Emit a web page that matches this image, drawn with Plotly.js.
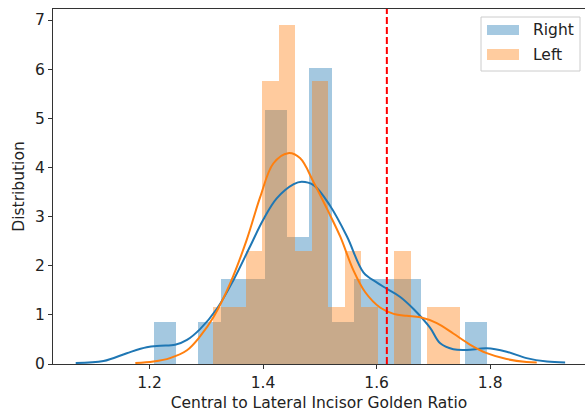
<!DOCTYPE html>
<html>
<head>
<meta charset="utf-8">
<script src="https://cdn.plot.ly/plotly-3.0.1.min.js"></script>
<style>html,body{margin:0;padding:0;background:#fff;}#chart{width:585px;height:414px;}</style>
</head>
<body>
<div id="chart"></div>
<script>
// Histogram (density) values
const rightBinStart = 1.2077;
const rightBinWidth = 0.03915;
const rightDensity = [0.86, 0, 0.86, 1.73, 1.73, 5.17, 2.59, 6.03, 0.86, 1.73, 1.73, 1.73, 0, 0, 0.86];

const leftBinStart = 1.3116;
const leftBinWidth = 0.02907;
const leftDensity = [1.15, 1.15, 2.3, 5.75, 6.9, 2.3, 5.75, 1.15, 2.3, 1.15, 0, 2.3, 0, 1.15, 1.15];

// KDE curves
const rightKdeX = [1.070, 1.119, 1.160, 1.195, 1.219, 1.245, 1.266, 1.289, 1.319, 1.348, 1.377, 1.400, 1.424, 1.454, 1.468, 1.489, 1.518, 1.548, 1.577, 1.600, 1.618, 1.641, 1.665, 1.694, 1.712, 1.735, 1.759, 1.794, 1.829, 1.864, 1.900, 1.932];
const rightKdeY = [0.02, 0.06, 0.22, 0.34, 0.37, 0.39, 0.49, 0.71, 1.13, 1.71, 2.39, 2.93, 3.37, 3.66, 3.71, 3.64, 3.22, 2.59, 1.86, 1.66, 1.53, 1.37, 1.12, 0.74, 0.42, 0.30, 0.285, 0.32, 0.25, 0.12, 0.05, 0.03];

const leftKdeX = [1.175, 1.207, 1.236, 1.266, 1.289, 1.313, 1.342, 1.371, 1.395, 1.418, 1.444, 1.465, 1.489, 1.515, 1.536, 1.559, 1.580, 1.606, 1.630, 1.653, 1.677, 1.706, 1.735, 1.765, 1.794, 1.829, 1.864, 1.882];
const leftKdeY = [0.02, 0.05, 0.12, 0.28, 0.56, 0.96, 1.64, 2.52, 3.40, 4.08, 4.29, 4.19, 3.70, 3.10, 2.59, 1.91, 1.46, 1.15, 1.02, 0.98, 0.95, 0.83, 0.62, 0.39, 0.22, 0.10, 0.04, 0.03];

const goldenRatio = 1.618;
const xTicks = [1.2, 1.4, 1.6, 1.8];
const yTicks = [0, 1, 2, 3, 4, 5, 6, 7];
const seriesNames = ['Right', 'Left'];

const centers = (start, w, n) => Array.from({length: n}, (_, i) => start + w * (i + 0.5));

const blue = '#1f77b4', orange = '#ff7f0e';
const font = {family: 'DejaVu Sans, sans-serif', size: 15.5, color: '#222'};

// plot area in pixels (for the hand-drawn legend box)
const M = {l: 53, r: 0, t: 9, b: 50};
const W = 585, H = 414;
const px2x = p => (p - M.l) / (W - M.l - M.r);
const py2y = p => (H - M.b - p) / (H - M.t - M.b);

const traces = [
  {type: 'bar', name: seriesNames[0], x: centers(rightBinStart, rightBinWidth, rightDensity.length), y: rightDensity,
   width: rightBinWidth, marker: {color: blue, line: {width: 0}}, opacity: 0.4, showlegend: false},
  {type: 'bar', name: seriesNames[1], x: centers(leftBinStart, leftBinWidth, leftDensity.length), y: leftDensity,
   width: leftBinWidth, marker: {color: orange, line: {width: 0}}, opacity: 0.4, showlegend: false},
  {type: 'scatter', mode: 'lines', x: rightKdeX, y: rightKdeY, line: {color: blue, width: 2, shape: 'spline', smoothing: 1}, showlegend: false, hoverinfo: 'skip'},
  {type: 'scatter', mode: 'lines', x: leftKdeX, y: leftKdeY, line: {color: orange, width: 2, shape: 'spline', smoothing: 1}, showlegend: false, hoverinfo: 'skip'},
  {type: 'scatter', mode: 'lines', x: [goldenRatio, goldenRatio], y: [0, 7.224], line: {color: 'red', width: 2, dash: '7px,3px'}, showlegend: false, hoverinfo: 'skip'}
];

const shapes = [
  {type: 'rect', xref: 'paper', yref: 'paper', x0: px2x(481), x1: px2x(580), y0: py2y(71), y1: py2y(17),
   line: {color: '#cccccc', width: 1}, fillcolor: 'rgba(255,255,255,0.8)', layer: 'above'},
  {type: 'rect', xref: 'paper', yref: 'paper', x0: px2x(487), x1: px2x(519), y0: py2y(35), y1: py2y(25),
   line: {width: 0}, fillcolor: 'rgba(31,119,180,0.4)', layer: 'above'},
  {type: 'rect', xref: 'paper', yref: 'paper', x0: px2x(487), x1: px2x(519), y0: py2y(60), y1: py2y(49),
   line: {width: 0}, fillcolor: 'rgba(255,127,14,0.4)', layer: 'above'}
];

const annotations = [
  {xref: 'paper', yref: 'paper', x: px2x(531), y: py2y(30), xanchor: 'left', yanchor: 'middle', showarrow: false,
   text: seriesNames[0], font: font},
  {xref: 'paper', yref: 'paper', x: px2x(531), y: py2y(54.5), xanchor: 'left', yanchor: 'middle', showarrow: false,
   text: seriesNames[1], font: font}
];

const layout = {
  width: W, height: H,
  margin: M,
  paper_bgcolor: '#fff', plot_bgcolor: '#fff',
  barmode: 'overlay', bargap: 0,
  font: font,
  showlegend: false,
  shapes: shapes,
  annotations: annotations,
  xaxis: {range: [1.03, 1.967], tickvals: xTicks, ticktext: xTicks.map(v => v.toFixed(1)),
          ticks: 'outside', ticklen: 4, tickcolor: '#333', showline: true, linecolor: '#333', linewidth: 1,
          mirror: true, showgrid: false, zeroline: false, tickfont: font, automargin: false,
          title: {text: 'Central to Lateral Incisor Golden Ratio', font: font, standoff: 6}},
  yaxis: {range: [0, 7.224], tickvals: yTicks, ticks: 'outside', ticklen: 4, tickcolor: '#333',
          showline: true, linecolor: '#333', linewidth: 1, showgrid: false, zeroline: false, tickfont: font, automargin: false,
          title: {text: 'Distribution', font: font, standoff: 6}}
};

Plotly.newPlot('chart', traces, layout, {displayModeBar: false, staticPlot: true});
</script>
</body>
</html>
